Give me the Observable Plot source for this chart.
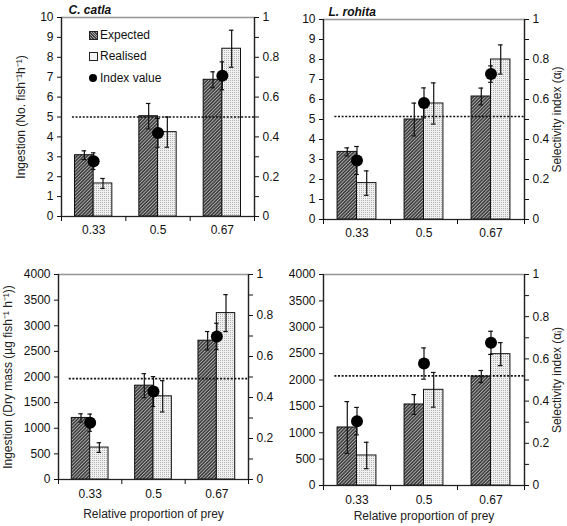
<!DOCTYPE html>
<html>
<head>
<meta charset="utf-8">
<script src="https://cdn.jsdelivr.net/npm/d3@7"></script>
<script src="https://cdn.jsdelivr.net/npm/@observablehq/plot@0.6"></script>
<style>
  html, body { margin: 0; padding: 0; background: #fff; }
  #wrap { position: relative; width: 567px; height: 526px; font-family: "Liberation Sans", Arial, sans-serif; }
  #wrap > div.panel { position: absolute; }
  .legend { position: absolute; font-size: 12px; color: #111; }
  .legend .row { position: absolute; white-space: nowrap; display: flex; align-items: center; }
  .sw { display: inline-block; width: 7px; height: 7px; border: 1px solid #222; margin-right: 2px; }
  .dot { display: inline-block; width: 8px; height: 8px; border-radius: 50%; background: #000; margin-right: 3px; }
</style>
</head>
<body>
<div id="wrap"></div>
<script>
// ---------- data ----------
const groups = ["0.33", "0.5", "0.67"];
const seriesNames = ["Expected", "Realised", "Index value"];

// C. catla, ingestion (No. fish-1 h-1)
const catlaNoExpected    = [3.08, 5.04, 6.87];
const catlaNoExpectedErr = [0.22, 0.64, 0.40];
const catlaNoRealised    = [1.66, 4.24, 8.43];
const catlaNoRealisedErr = [0.25, 0.76, 0.93];
const catlaNoIndex       = [0.278, 0.42, 0.707];
const catlaNoIndexErr    = [0.042, 0.072, 0.07];
const catlaNoRef         = 0.50;

// L. rohita, ingestion (No. fish-1 h-1)
const rohitaNoExpected    = [3.38, 5.0, 6.15];
const rohitaNoExpectedErr = [0.20, 0.82, 0.42];
const rohitaNoRealised    = [1.82, 5.8, 8.0];
const rohitaNoRealisedErr = [0.61, 1.03, 0.73];
const rohitaNoIndex       = [0.295, 0.583, 0.727];
const rohitaNoIndexErr    = [0.07, 0.075, 0.041];
const rohitaNoRef         = 0.515;

// C. catla, ingestion (dry mass, µg fish-1 h-1)
const catlaDmExpected    = [1201, 1831, 2708];
const catlaDmExpectedErr = [81, 234, 179];
const catlaDmRealised    = [623, 1623, 3247];
const catlaDmRealisedErr = [94, 305, 360];
const catlaDmIndex       = [0.277, 0.429, 0.698];
const catlaDmIndexErr    = [0.042, 0.073, 0.064];
const catlaDmRef         = 0.492;

// L. rohita, ingestion (dry mass, µg fish-1 h-1)
const rohitaDmExpected    = [1100, 1536, 2066];
const rohitaDmExpectedErr = [490, 187, 114];
const rohitaDmRealised    = [569, 1814, 2490];
const rohitaDmRealisedErr = [250, 329, 218];
const rohitaDmIndex       = [0.305, 0.578, 0.676];
const rohitaDmIndexErr    = [0.065, 0.074, 0.055];
const rohitaDmRef         = 0.52;

const noTicks = [0,1,2,3,4,5,6,7,8,9,10];
const dmTicks = [0,500,1000,1500,2000,2500,3000,3500,4000];
const indexTicks = [0,0.1,0.2,0.3,0.4,0.5,0.6,0.7,0.8,0.9,1];

// ---------- drawing ----------
const BW = 0.29;   // bar width in band units
const CAP = 0.035; // half cap width

function patternDefs(id) {
  return () => {
    const d = d3.create("svg:defs");
    const h = d.append("pattern").attr("id", "hatch-" + id)
      .attr("patternUnits", "userSpaceOnUse").attr("width", 2.4).attr("height", 2.4)
      .attr("patternTransform", "rotate(45)");
    h.append("rect").attr("width", 2.4).attr("height", 2.4).attr("fill", "#3c3c3c");
    h.append("rect").attr("width", 0.9).attr("height", 2.4).attr("fill", "#b0b0b0");
    const s = d.append("pattern").attr("id", "dots-" + id)
      .attr("patternUnits", "userSpaceOnUse").attr("width", 2).attr("height", 2);
    s.append("rect").attr("width", 2).attr("height", 2).attr("fill", "#f0f0f0");
    s.append("rect").attr("width", 1).attr("height", 1).attr("fill", "#b4b4b4");
    return d.node();
  };
}

function panel(cfg) {
  const max = cfg.ymax;
  const rows = groups.map((g, i) => ({
    g, i,
    exp: cfg.expected[i], expErr: cfg.expectedErr[i],
    real: cfg.realised[i], realErr: cfg.realisedErr[i],
    idx: cfg.index[i] * max, idxErr: cfg.indexErr[i] * max
  }));
  const cx = d => d.i + 0.5;
  const errs = [
    ...rows.map(d => ({x: cx(d) - BW / 2, lo: d.exp - d.expErr, hi: d.exp + d.expErr})),
    ...rows.map(d => ({x: cx(d) + BW / 2, lo: d.real - d.realErr, hi: d.real + d.realErr})),
    ...rows.map(d => ({x: cx(d), lo: d.idx - d.idxErr, hi: d.idx + d.idxErr}))
  ];
  const caps = errs.flatMap(e => [{x: e.x, y: e.lo}, {x: e.x, y: e.hi}]);
  const fmtR = v => {
    const r = v / max;
    const k = Math.round(r * 10);
    return k % 2 === 0 ? String(+(r).toFixed(1)) : "";
  };
  const marks = [
    patternDefs(cfg.id),
    Plot.frame({stroke: "#9a9a9a", strokeWidth: 1.6}),
    Plot.rectY(rows, {x1: d => cx(d) - BW, x2: d => cx(d), y1: 0, y2: "exp",
      fill: `url(#hatch-${cfg.id})`, stroke: "#111", strokeWidth: 1}),
    Plot.rectY(rows, {x1: d => cx(d), x2: d => cx(d) + BW, y1: 0, y2: "real",
      fill: `url(#dots-${cfg.id})`, stroke: "#111", strokeWidth: 1}),
    Plot.ruleY([cfg.ref * max], {x1: 0.17, x2: 3, stroke: "#111", strokeWidth: 1.7, strokeDasharray: "2,1.6"}),
    Plot.ruleX(errs, {x: "x", y1: "lo", y2: "hi", stroke: "#111", strokeWidth: 1.2}),
    Plot.ruleY(caps, {y: "y", x1: d => d.x - CAP, x2: d => d.x + CAP, stroke: "#111", strokeWidth: 1.2}),
    Plot.dot(rows, {x: cx, y: "idx", r: 6, fill: "#000"}),
    Plot.ruleX([0, 3], {stroke: "#222", strokeWidth: 1.2}),
    Plot.ruleY([0], {stroke: "#222", strokeWidth: 1.2}),
    Plot.axisY({ticks: cfg.yticks, tickSize: 4, tickPadding: 4, label: null, tickFormat: d => String(d)}),
    Plot.axisY({anchor: "right", ticks: indexTicks.map(t => t * max), tickSize: 4, tickPadding: 4, label: null, tickFormat: fmtR}),
    Plot.axisX({ticks: [0.5, 1.5, 2.5], tickSize: 0, tickPadding: cfg.xPad, label: null, tickFormat: d => groups[Math.floor(d)]}),
    Plot.axisX({ticks: [0, 1, 2, 3], tickSize: 5, label: null, tickFormat: () => ""})
  ];
  if (cfg.title) marks.push(Plot.text([cfg.title], {frameAnchor: "top-left", dx: cfg.titleDx, dy: -12,
    text: d => d, fontWeight: "bold", fontStyle: "italic", fontSize: 12, textAnchor: "start", fill: "#111"}));
  if (cfg.ylabel) marks.push(Plot.text([cfg.ylabel], {frameAnchor: "left", dx: cfg.ylabelDx, rotate: -90,
    text: d => d, fontSize: 12, textAnchor: "middle", fill: "#222"}));
  if (cfg.rlabel) marks.push(Plot.text([cfg.rlabel], {frameAnchor: "right", dx: 33, rotate: -90,
    text: d => d, fontSize: 12, textAnchor: "middle", fill: "#222"}));
  if (cfg.xlabel) marks.push(Plot.text([cfg.xlabel], {frameAnchor: "bottom", dy: cfg.xlabelDy,
    text: d => d, fontSize: 12, textAnchor: "middle", fill: "#222"}));

  const chart = Plot.plot({
    width: cfg.w, height: cfg.h,
    marginLeft: cfg.ml, marginRight: cfg.mr, marginTop: cfg.mt, marginBottom: cfg.mb,
    x: {type: "linear", domain: [0, 3]},
    y: {domain: [0, max]},
    style: {fontFamily: '"Liberation Sans", Arial, sans-serif', fontSize: "12px", color: "#111", background: "transparent", overflow: "visible"},
    marks
  });
  const div = document.createElement("div");
  div.className = "panel";
  div.style.left = cfg.left + "px";
  div.style.top = cfg.top + "px";
  div.appendChild(chart);
  return div;
}

const wrap = document.getElementById("wrap");
wrap.appendChild(panel({
  id: "a", left: 0, top: 0, w: 283, h: 250, ml: 61, mr: 29, mt: 17, mb: 34, xPad: 9,
  ymax: 10, yticks: noTicks,
  expected: catlaNoExpected, expectedErr: catlaNoExpectedErr,
  realised: catlaNoRealised, realisedErr: catlaNoRealisedErr,
  index: catlaNoIndex, indexErr: catlaNoIndexErr, ref: catlaNoRef,
  title: "C. catla", titleDx: 7,
  ylabel: "Ingestion (No. fish\u207B\u00B9h\u207B\u00B9)", ylabelDx: -40
}));
wrap.appendChild(panel({
  id: "b", left: 283, top: 0, w: 284, h: 250, ml: 40, mr: 43, mt: 19, mb: 31, xPad: 9,
  ymax: 10, yticks: noTicks,
  expected: rohitaNoExpected, expectedErr: rohitaNoExpectedErr,
  realised: rohitaNoRealised, realisedErr: rohitaNoRealisedErr,
  index: rohitaNoIndex, indexErr: rohitaNoIndexErr, ref: rohitaNoRef,
  title: "L. rohita", titleDx: 5,
  rlabel: "Selectivity index (\u03B1\u1D62)"
}));
wrap.appendChild(panel({
  id: "c", left: 0, top: 250, w: 283, h: 276, ml: 58, mr: 35, mt: 24, mb: 47, xPad: 10,
  ymax: 4000, yticks: dmTicks,
  expected: catlaDmExpected, expectedErr: catlaDmExpectedErr,
  realised: catlaDmRealised, realisedErr: catlaDmRealisedErr,
  index: catlaDmIndex, indexErr: catlaDmIndexErr, ref: catlaDmRef,
  ylabel: "Ingestion (Dry mass (\u00B5g fish\u207B\u00B9 h\u207B\u00B9))", ylabelDx: -50,
  xlabel: "Relative proportion of prey", xlabelDy: 38
}));
wrap.appendChild(panel({
  id: "d", left: 283, top: 250, w: 284, h: 276, ml: 40, mr: 43, mt: 24, mb: 41, xPad: 10,
  ymax: 4000, yticks: dmTicks,
  expected: rohitaDmExpected, expectedErr: rohitaDmExpectedErr,
  realised: rohitaDmRealised, realisedErr: rohitaDmRealisedErr,
  index: rohitaDmIndex, indexErr: rohitaDmIndexErr, ref: rohitaDmRef,
  rlabel: "Selectivity index (\u03B1\u1D62)",
  xlabel: "Relative proportion of prey", xlabelDy: 34
}));

// legend (top-left panel)
const leg = document.createElement("div");
leg.className = "legend";
leg.style.left = "89px";
leg.style.top = "28px";
const legSw = [
  '<span class="sw" style="background:repeating-linear-gradient(45deg,#444 0 1.2px,#a8a8a8 1.2px 1.9px)"></span>',
  '<span class="sw" style="background:#f4f4f4"></span>',
  '<span class="dot"></span>'
];
seriesNames.forEach((n, i) => {
  const r = document.createElement("div");
  r.className = "row";
  r.style.top = [0, 21, 43][i] + "px";
  r.style.left = "0px";
  r.innerHTML = legSw[i] + '<span>' + n + '</span>';
  leg.appendChild(r);
});
wrap.appendChild(leg);
</script>
</body>
</html>
